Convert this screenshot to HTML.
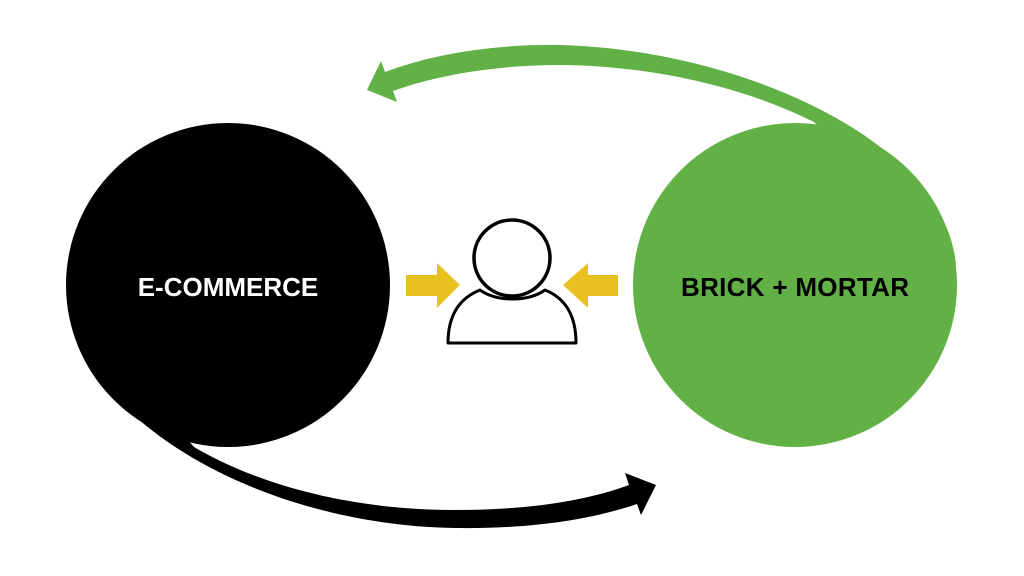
<!DOCTYPE html>
<html><head><style>html,body{margin:0;padding:0;background:#fff}svg{display:block}</style></head>
<body>
<svg width="1024" height="576" viewBox="0 0 1024 576" xmlns="http://www.w3.org/2000/svg">
<rect width="1024" height="576" fill="#fff"/>
<circle cx="228" cy="285" r="162" fill="#000"/>
<path d="M67,300 C80,420 260,525 455,528 C530,529 590,520 637,504 L641,515 L656,485 L625,473 L629,485 C580,503 520,510 455,510 C340,510 250,480 194,447 Z" fill="#000"/>
<circle cx="795" cy="285" r="162" fill="#62B146"/>
<path d="M956,265 C945,140 740,50 561,45 C490,44 430,55 385,72 L381,61 L367,90 L397,102 L393,91 C440,74 500,65 561,65 C660,66 750,90 814,122 Z" fill="#62B146"/>
<text x="228" y="296" text-anchor="middle" fill="#fff" font-family="Liberation Sans, sans-serif" font-weight="bold" font-size="26">E-COMMERCE</text>
<text x="795" y="296" text-anchor="middle" fill="#000" font-family="Liberation Sans, sans-serif" font-weight="bold" font-size="26" textLength="228">BRICK + MORTAR</text>
<path d="M406,275 L437,275 L437,263 L460,285 L437,308 L437,296 L406,296 Z" fill="#E8C11E"/>
<path d="M618,275 L588,275 L588,263 L563,285 L588,308 L588,296 L618,296 Z" fill="#E8C11E"/>
<path d="M448,343 C448,315 460,298 480,290 C497,302 528,302 545,290 C565,298 576,315 576,343 Z" fill="#fff" stroke="#000" stroke-width="3" stroke-linejoin="round"/>
<circle cx="512" cy="258" r="38" fill="#fff" stroke="#000" stroke-width="3.5"/>
</svg>
</body></html>
